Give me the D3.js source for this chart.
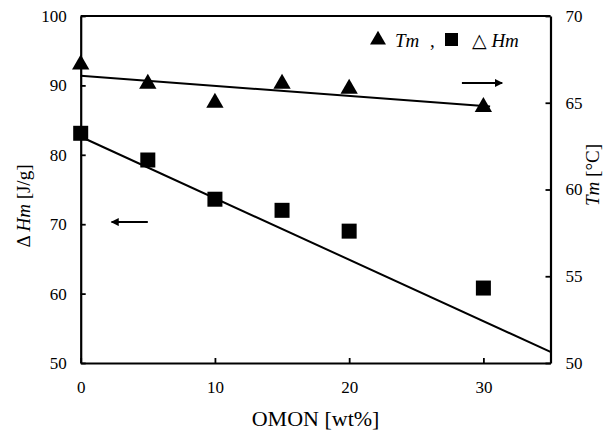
<!DOCTYPE html>
<html lang="en">
<head>
    <meta charset="UTF-8">
    <title>OMON Tm / dHm</title>
    <script src="https://d3js.org/d3.v7.min.js"></script>
    <style>
        body { margin: 0; background: #fff; }
        text { font-family: "Liberation Serif", "DejaVu Serif", serif; fill: #000; }
    </style>
</head>
<body>
    <svg class="chart"></svg>

    <script>
        // data
        const omon = [0, 5, 10, 15, 20, 30];              // wt%
        const tm = [67.2, 66.1, 65.0, 66.1, 65.8, 64.75];  // °C, right axis
        const dHm = [83.1, 79.25, 73.6, 72.0, 69.0, 60.8]; // J/g, left axis

        // drawn trend lines (end points)
        const tmLineX = [0, 30.5];
        const tmLineY = [66.55, 64.78];
        const hmLineX = [0, 35];
        const hmLineY = [82.6, 51.6];

        const xTicks = [0, 10, 20, 30];
        const leftTicks = [50, 60, 70, 80, 90, 100];
        const rightTicks = [50, 55, 60, 65, 70];

        const W = 603, H = 430;
        const m = { left: 80.7, right: 52.5, top: 16, bottom: 67 };

        const svg = d3.select('.chart')
            .attr('width', W)
            .attr('height', H);

        const x = d3.scaleLinear().domain([0, 35]).range([m.left, W - m.right]);
        const yL = d3.scaleLinear().domain([50, 100]).range([H - m.bottom, m.top]);
        const yR = d3.scaleLinear().domain([50, 70]).range([H - m.bottom, m.top]);

        // axes
        const xAxis = svg.append('g')
            .attr('transform', `translate(0,${H - m.bottom})`)
            .call(d3.axisBottom(x).tickValues(xTicks).tickSizeInner(-5).tickSizeOuter(0).tickPadding(18));
        const lAxis = svg.append('g')
            .attr('transform', `translate(${m.left},0)`)
            .call(d3.axisLeft(yL).tickValues(leftTicks).tickSizeInner(-5).tickSizeOuter(0).tickPadding(14));
        const rAxis = svg.append('g')
            .attr('transform', `translate(${W - m.right},0)`)
            .call(d3.axisRight(yR).tickValues(rightTicks).tickSizeInner(-5).tickSizeOuter(0).tickPadding(15));

        [xAxis, lAxis, rAxis].forEach(a => {
            a.select('.domain').attr('stroke', '#000').attr('stroke-width', 2.2);
            a.selectAll('.tick line').attr('stroke', '#000').attr('stroke-width', 1.8);
            a.selectAll('.tick text')
                .style('font-family', '"Liberation Serif", serif')
                .style('font-size', '17px')
                .attr('fill', '#000');
        });

        // top border
        svg.append('line')
            .attr('x1', m.left).attr('x2', W - m.right)
            .attr('y1', m.top).attr('y2', m.top)
            .attr('stroke', '#000').attr('stroke-width', 2.2);

        // trend lines
        const line = d3.line();
        svg.append('path')
            .attr('d', line(tmLineX.map((v, i) => [x(v), yR(tmLineY[i])])))
            .attr('fill', 'none').attr('stroke', '#000').attr('stroke-width', 2);
        svg.append('path')
            .attr('d', line(hmLineX.map((v, i) => [x(v), yL(hmLineY[i])])))
            .attr('fill', 'none').attr('stroke', '#000').attr('stroke-width', 2);

        // markers
        const tri = d3.symbol().type(d3.symbolTriangle).size(130);
        svg.selectAll('.tm')
            .data(omon)
            .enter()
            .append('path')
            .attr('class', 'tm')
            .attr('d', tri)
            .attr('transform', (d, i) => `translate(${x(d)},${yR(tm[i])})`)
            .attr('fill', '#000');

        const sq = 15;
        svg.selectAll('.hm')
            .data(omon)
            .enter()
            .append('rect')
            .attr('class', 'hm')
            .attr('x', d => x(d) - sq / 2)
            .attr('y', (d, i) => yL(dHm[i]) - sq / 2)
            .attr('width', sq).attr('height', sq)
            .attr('fill', '#000');

        // arrows showing which axis belongs to which series
        svg.append('defs').append('marker')
            .attr('id', 'head')
            .attr('viewBox', '0 0 10 10')
            .attr('refX', 9).attr('refY', 5)
            .attr('markerWidth', 5).attr('markerHeight', 4)
            .attr('markerUnits', 'strokeWidth')
            .attr('orient', 'auto')
            .append('path').attr('d', 'M0,0 L10,5 L0,10 Z').attr('fill', '#000');

        svg.append('line')
            .attr('x1', x(5.0)).attr('x2', x(2.3))
            .attr('y1', yL(70.3)).attr('y2', yL(70.3))
            .attr('stroke', '#000').attr('stroke-width', 2)
            .attr('marker-end', 'url(#head)');
        svg.append('line')
            .attr('x1', x(28.4)).attr('x2', x(31.4))
            .attr('y1', yR(66.14)).attr('y2', yR(66.14))
            .attr('stroke', '#000').attr('stroke-width', 2)
            .attr('marker-end', 'url(#head)');

        // legend
        const leg = svg.append('g').attr('transform', 'translate(378,40)');
        leg.append('path').attr('d', d3.symbol().type(d3.symbolTriangle).size(110)).attr('fill', '#000');
        leg.append('text').attr('x', 17).attr('y', 7)
            .style('font-size', '19px').style('font-style', 'italic').text('Tm');
        leg.append('text').attr('x', 52).attr('y', 7)
            .style('font-size', '19px').text(',');
        leg.append('rect').attr('x', 67).attr('y', -7).attr('width', 13).attr('height', 13).attr('fill', '#000');
        const lt = leg.append('text').attr('x', 94).attr('y', 7).style('font-size', '19px');
        lt.append('tspan').text('△ ');
        lt.append('tspan').style('font-style', 'italic').text('Hm');

        // axis titles
        svg.append('text')
            .attr('x', x(17.5)).attr('y', 426)
            .attr('text-anchor', 'middle')
            .style('font-size', '22px')
            .text('OMON [wt%]');

        const lTitle = svg.append('text')
            .attr('transform', 'translate(30,206) rotate(-90)')
            .attr('text-anchor', 'middle')
            .style('font-size', '19px');
        lTitle.append('tspan').text('Δ ');
        lTitle.append('tspan').style('font-style', 'italic').text('Hm');
        lTitle.append('tspan').text(' [J/g]');

        const rTitle = svg.append('text')
            .attr('transform', 'translate(599,175) rotate(-90)')
            .attr('text-anchor', 'middle')
            .style('font-size', '19px');
        rTitle.append('tspan').style('font-style', 'italic').text('Tm');
        rTitle.append('tspan').text(' [°C]');
    </script>
</body>
</html>
